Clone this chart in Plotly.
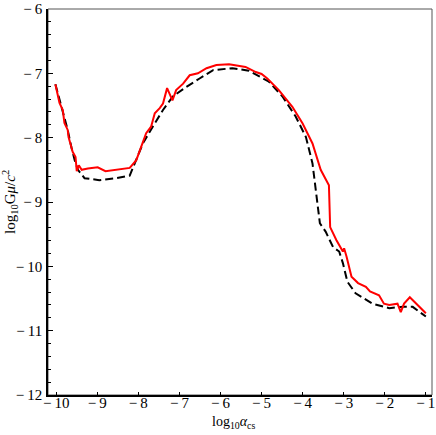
import plotly.graph_objects as go

# red solid curve
red_x = [-10.02, -9.92, -9.84, -9.80, -9.72, -9.70, -9.63, -9.60, -9.53, -9.50,
         -9.45, -9.38, -9.23, -9.07, -8.99, -8.80, -8.53, -8.21, -8.05, -7.93,
         -7.81, -7.69, -7.60, -7.48, -7.40, -7.30, -7.24, -7.17, -7.08, -6.91,
         -6.75, -6.55, -6.34, -6.10, -5.79, -5.39, -5.14, -5.00, -4.86, -4.58,
         -4.25, -4.00, -3.76, -3.56, -3.36, -3.33, -3.18, -3.02, -2.99, -2.93,
         -2.81, -2.65, -2.46, -2.36, -2.14, -2.02, -1.89, -1.69, -1.61, -1.53,
         -1.39, -1.24, -1.00]
red_y = [-7.17, -7.46, -7.57, -7.77, -7.88, -7.99, -8.15, -8.22, -8.30, -8.52,
         -8.43, -8.50, -8.48, -8.46, -8.46, -8.52, -8.50, -8.47, -8.35, -8.15,
         -7.93, -7.83, -7.62, -7.54, -7.47, -7.23, -7.31, -7.42, -7.26, -7.16,
         -7.03, -7.00, -6.92, -6.87, -6.86, -6.90, -6.98, -7.01, -7.08, -7.26,
         -7.52, -7.78, -8.09, -8.50, -8.74, -9.39, -9.59, -9.77, -9.72, -9.85,
         -10.16, -10.26, -10.32, -10.39, -10.45, -10.58, -10.60, -10.58, -10.71, -10.58,
         -10.48, -10.58, -10.73]

# black dashed curve
black_x = [-10.02, -9.85, -9.72, -9.63, -9.55, -9.47, -9.31, -8.95, -8.54, -8.21,
           -8.05, -7.89, -7.65, -7.40, -7.16, -6.83, -6.51, -6.18, -5.71, -5.31,
           -4.82, -4.49, -4.17, -3.92, -3.76, -3.66, -3.58, -3.44, -3.26, -3.11,
           -3.02, -2.91, -2.71, -2.30, -1.89, -1.57, -1.32, -1.00]
black_y = [-7.17, -7.57, -7.88, -8.15, -8.35, -8.50, -8.63, -8.66, -8.63, -8.59,
           -8.35, -8.09, -7.83, -7.57, -7.36, -7.21, -7.08, -6.95, -6.92, -6.96,
           -7.13, -7.36, -7.67, -7.99, -8.40, -8.92, -9.33, -9.46, -9.70, -9.77,
           -9.95, -10.24, -10.42, -10.58, -10.65, -10.63, -10.63, -10.78]

x_ticks = [-10, -9, -8, -7, -6, -5, -4, -3, -2, -1]
y_ticks = [-12, -11, -10, -9, -8, -7, -6]

serif = "Liberation Serif"
tick_font = dict(family=serif, size=15, color="black")


def tick_text(vals):
    # Mathematica-style labels: minus sign, a little gap, then the number
    return ["\u2212\u2009" + str(abs(v)) for v in vals]


fig = go.Figure()
fig.add_trace(go.Scatter(
    x=black_x, y=black_y, mode="lines",
    line=dict(color="black", width=2, dash="8px,4px"),
    showlegend=False,
))
fig.add_trace(go.Scatter(
    x=red_x, y=red_y, mode="lines",
    line=dict(color="#ff0000", width=2),
    showlegend=False,
))

# thin grey frame, black axis lines drawn over it on left/bottom
fig.add_shape(type="rect", xref="paper", yref="paper", x0=0, x1=1, y0=0, y1=1,
              line=dict(color="#555555", width=1), layer="below")

# axis titles
fig.add_annotation(text="log<sub>10</sub><i>α</i><sub>cs</sub>",
                   xref="paper", yref="paper", x=0.482, y=-0.072,
                   xanchor="center", yanchor="middle", showarrow=False,
                   font=dict(family=serif, size=14, color="black"))
fig.add_annotation(text="log<sub>10</sub>G<i>μ</i>/<i>c</i><sup>2</sup>",
                   xref="paper", yref="paper", x=-0.099, y=0.5, textangle=-90,
                   xanchor="center", yanchor="middle", showarrow=False,
                   font=dict(family=serif, size=15, color="black"))

fig.update_layout(
    width=436, height=435,
    paper_bgcolor="white", plot_bgcolor="white",
    font=dict(family=serif, size=15, color="black"),
    margin=dict(l=48, r=4, t=9, b=40, autoexpand=False),
    showlegend=False,
    xaxis=dict(
        range=[-10.2, -0.85], tickvals=x_ticks, ticktext=tick_text(x_ticks),
        tickfont=tick_font,
        showgrid=False, zeroline=False, automargin=False,
        showline=True, linecolor="black", linewidth=1.5,
        ticks="inside", ticklen=3, tickcolor="black", tickwidth=1,
        ticklabelstandoff=-7,
    ),
    yaxis=dict(
        range=[-12, -6], tickvals=y_ticks, ticktext=tick_text(y_ticks),
        tickfont=tick_font,
        showgrid=False, zeroline=False, automargin=False,
        showline=True, linecolor="black", linewidth=1.5,
        ticks="inside", ticklen=5, tickcolor="black", tickwidth=1,
        minor=dict(dtick=0.2, ticks="inside", ticklen=3, tickcolor="black"),
        ticklabelstandoff=1,
    ),
)

fig.write_html("out.html", config={"displayModeBar": False},
               post_script="document.body.style.margin='0';")
